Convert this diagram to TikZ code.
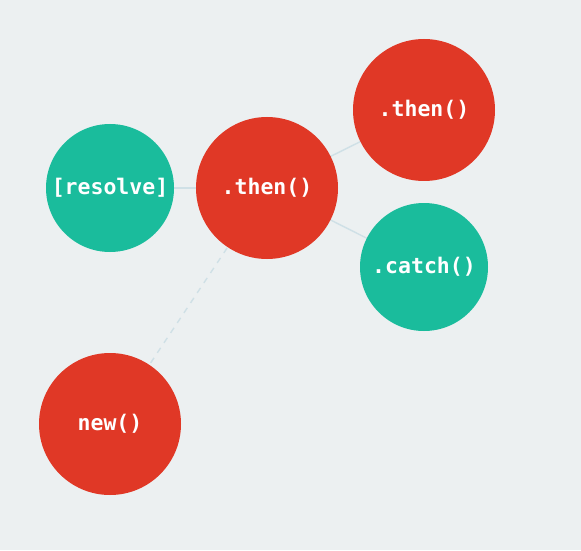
\documentclass[tikz,border=0pt]{standalone}
\usepackage{fontspec}
\newfontfamily\codefont{DejaVu Sans Mono}
\definecolor{bg}{HTML}{ECF0F1}
\definecolor{redc}{HTML}{E03826}
\definecolor{tealc}{HTML}{1ABC9C}
\definecolor{linkc}{HTML}{CFE0E6}
\begin{document}
\begin{tikzpicture}[x=1pt,y=1pt,
  bubble/.style={circle,inner sep=0pt,text=white,font=\codefont\bfseries\fontsize{21.5}{21.5}\selectfont},
  redbub/.style={bubble,fill=redc},
  tealbub/.style={bubble,fill=tealc},
  link/.style={draw=linkc,line width=1.4pt},
  dlink/.style={link,dash pattern=on 6pt off 6pt}]
\fill[bg] (0,0) rectangle (581,550);
\useasboundingbox (0,0) rectangle (581,550);
\coordinate (cres) at (110,362);
\coordinate (cmid) at (267,362);
\coordinate (ctop) at (424,440);
\coordinate (ccat) at (424,283);
\coordinate (cnew) at (110,126);
\draw[link] (cres) -- (cmid);
\draw[link] (cmid) -- (ctop);
\draw[link] (cmid) -- (ccat);
\draw[dlink] (cmid) -- (cnew);
\node[tealbub,minimum size=128pt] (res) at (cres) {[resolve]};
\node[redbub,minimum size=142pt] (mid) at (cmid) {.then()};
\node[redbub,minimum size=142pt] (top) at (ctop) {.then()};
\node[tealbub,minimum size=128pt] (cat) at (ccat) {.catch()};
\node[redbub,minimum size=142pt] (new) at (cnew) {new()};
\end{tikzpicture}
\end{document}
